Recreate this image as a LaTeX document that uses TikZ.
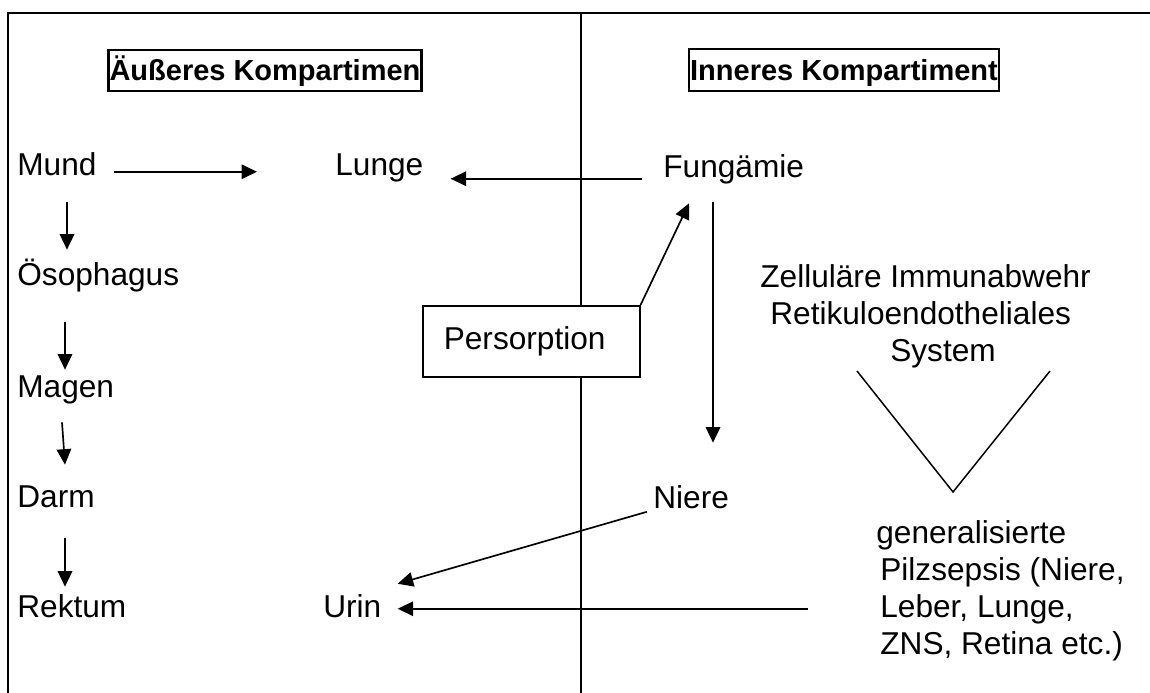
\documentclass[tikz,border=0pt]{standalone}
\usepackage{fontspec}
\setmainfont{Liberation Sans}
\usetikzlibrary{arrows.meta}

\begin{document}
\begin{tikzpicture}[x=0.02cm,y=-0.02cm,
  txt/.style={inner sep=0pt,anchor=base west,font=\fontsize{18}{21}\selectfont,
    text height=0.46cm,text depth=0.13cm},
  block/.style={inner sep=0pt,anchor=north west,align=left,font=\fontsize{18}{21}\selectfont},
  kopf/.style={draw,line width=1.3pt,font=\fontsize{16.5}{20}\selectfont\bfseries,
    inner xsep=0.02cm,inner ysep=0.09cm,text height=0.53cm,text depth=0.12cm},
  kasten/.style={draw,fill=white,line width=0.9pt,anchor=north west,font=\fontsize{18}{21}\selectfont,
    inner xsep=0.42cm,inner ysep=0pt,text width=3.5cm,align=left,minimum height=1.42cm},
  arr/.style={-{Triangle[length=0.31cm,width=0.29cm]},line width=0.95pt}]
\useasboundingbox (0,0) rectangle (1150,693);

% Rahmen und Trennlinie
\draw[line width=1.4pt] (8,693) -- (8,13) -- (1150,13);
\draw[line width=1.4pt] (581,13) -- (581,693);

\node[kopf] (aeuss) at (265,70.5) {Äußeres Kompartimen};
\node[kopf] (inner) at (844,70) {Inneres Kompartiment};

% linke Spalte
\node[txt] (mund) at (17,175) {Mund};
\node[txt] (oeso) at (17,285) {Ösophagus};
\node[txt] (magen) at (17,397) {Magen};
\node[txt] (darm) at (17,507) {Darm};
\node[txt] (rektum) at (17,617) {Rektum};

\node[txt] (lunge) at (335,175) {Lunge};
\node[txt] (urin) at (323,617) {Urin};

% rechte Seite
\node[txt] (fung) at (663,177) {Fungämie};
\node[txt] (niere) at (653,508) {Niere};
\node[kasten] (pers) at (422,305) {Persorption};

\node[block] (abwehr) at (760,264.5) {Zelluläre Immunabwehr\\\hspace*{0.2cm}Retikuloendotheliales\\\hspace*{2.6cm}System};
\node[block] (sepsis) at (880,520.5) {\hspace*{-0.08cm}generalisierte\\Pilzsepsis (Niere,\\Leber, Lunge,\\ZNS, Retina etc.)};

\draw[line width=0.85pt] (857,371) -- (953,492) -- (1050,371);

\draw[arr] ([shift={(17,5)}]mund.east) -- ([shift={(-78,5)}]lunge.east -| lunge.west);
\draw[arr] ([shift={(50,20.5)}]mund.south west) -- ([shift={(50,-12)}]oeso.north west);
\draw[arr] ([shift={(48,30.5)}]oeso.south west) -- ([shift={(48,-4)}]magen.north west);
\draw[arr] ([shift={(45,18.5)}]magen.south west) -- ([shift={(48,-19)}]darm.north west);
\draw[arr] ([shift={(48,24.5)}]darm.south west) -- ([shift={(48,-7)}]rektum.north west);

\draw[arr] ([shift={(-21,10)}]fung.west) -- ([shift={(27,12)}]lunge.east);
\draw[arr] (pers.north east) -- ([shift={(26,19.5)}]fung.south west);
\draw[arr] ([shift={(50,18.5)}]fung.south west) -- ([shift={(60,-42)}]niere.north west);
\draw[arr] ([shift={(-6,12)}]niere.west) -- ([shift={(16,-25)}]urin.east);
\draw[arr,shorten <=1.44cm] (sepsis.west |- urin.east) -- ([xshift=0.32cm]urin.east);
\end{tikzpicture}
\end{document}
